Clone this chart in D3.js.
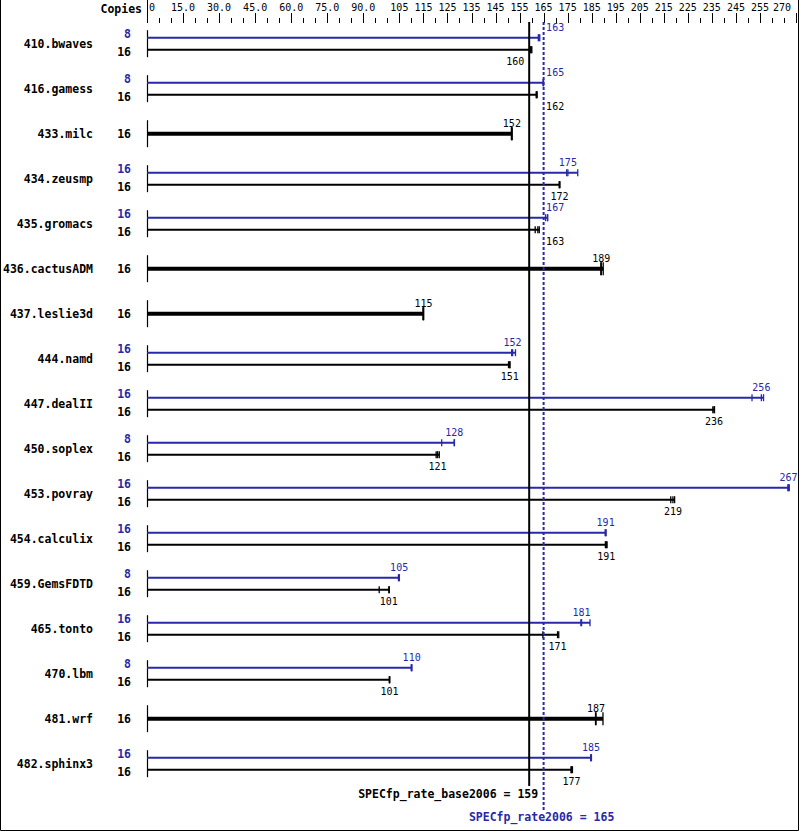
<!DOCTYPE html>
<html><head><meta charset="utf-8">
<script src="https://cdn.jsdelivr.net/npm/d3@7"></script>
<style>body{margin:0;background:#fff} svg{display:block}</style>
</head><body>
<script>
const benchmarks = ["410.bwaves","416.gamess","433.milc","434.zeusmp","435.gromacs","436.cactusADM","437.leslie3d","444.namd","447.dealII","450.soplex","453.povray","454.calculix","459.GemsFDTD","465.tonto","470.lbm","481.wrf","482.sphinx3"];
const peakCopies = [8,8,null,16,16,null,null,16,16,8,16,16,8,16,8,null,16];
const baseCopies = [16,16,16,16,16,16,16,16,16,16,16,16,16,16,16,16,16];
// individual run ratios (peak null = peak identical to base)
const peakRuns = [
  [162.8,163.1,163.4],[164.8,164.9,165.0],null,[174.6,175.1,179.2],[165.8,166.6,166.7],
  null,null,[151.7,152.1,153.3],[251.7,255.6,256.5],[122.6,127.8,127.9],
  [266.6,266.9,267.2],[190.6,190.8,191.0],[104.6,104.9,105.0],[180.5,180.8,184.3],
  [109.9,110.1,110.2],null,[184.6,184.7,184.9]
];
const baseRuns = [
  [159.6,159.8,160.1],[161.9,162.1,162.3],[151.6,151.8,151.9],[171.5,171.6,171.8],[161.5,162.6,163.2],
  [188.8,189.0,189.8],[114.8,115.0,115.1],[150.4,150.9,151.0],[235.4,235.9,236.1],[120.3,120.9,121.6],
  [217.9,218.8,219.5],[190.7,191.1,191.4],[96.6,100.6,100.8],[164.7,170.8,171.3],
  [100.8,100.9,101.0],[186.6,186.8,189.7],[176.4,176.6,177.0]
];
const tickLabelValues = [0,15,30,45,60,75,90,105,115,125,135,145,155,165,175,185,195,205,215,225,235,245,255,270];
const tickLabels = ["0","15.0","30.0","45.0","60.0","75.0","90.0","105","115","125","135","145","155","165","175","185","195","205","215","225","235","245","255","270"];
const baseScore = 159, peakScore = 165;
const baseTitle = "SPECfp_rate_base2006 = 159";
const peakTitle = "SPECfp_rate2006 = 165";

const W = 799, H = 831;
const BLUE = "#2828a8", MONO = "'DejaVu Sans Mono', 'Liberation Mono', monospace";
const svg = d3.select("body").append("svg").attr("width", W).attr("height", H);
const x = d3.scaleLinear().domain([0, 270]).range([147, 796]);
const y = d3.scaleLinear().domain([0, benchmarks.length - 1]).range([43.7, 763.7]);

// border
svg.append("path").attr("d", `M0.5,0V830.5H798.5V0`).attr("fill", "none").attr("stroke", "#000");

// top axis
svg.append("line").attr("x1", 147.5).attr("x2", 147.5).attr("y1", 0).attr("y2", 23).attr("stroke", "#000");
const ticks = d3.range(0, 271, 5);
svg.append("g").selectAll("line").data(ticks).join("line")
  .attr("x1", d => Math.round(x(d)) + 0.5).attr("x2", d => Math.round(x(d)) + 0.5)
  .attr("y1", d => tickLabelValues.includes(d) ? 13 : 18).attr("y2", 23)
  .attr("stroke", "#000");
svg.append("g").selectAll("text").data(tickLabelValues).join("text")
  .attr("x", (d, i) => d === 0 ? x(d) + 2 : (d === 270 ? 791 : x(d)))
  .attr("y", 11)
  .attr("text-anchor", d => d === 0 ? "start" : (d === 270 ? "end" : "middle"))
  .attr("font-family", MONO).attr("font-size", 10)
  .text((d, i) => tickLabels[i]);
svg.append("text").attr("x", 142).attr("y", 13).attr("text-anchor", "end")
  .attr("font-family", MONO).attr("font-size", 11.5).attr("font-weight", "bold").text("Copies");

const xb = x(baseScore), xp = x(peakScore);
const charW = 6.02;
function placeLabel(cx, txt) {
  const w = txt.length * charW;
  const lines = [xb, xp];
  const overlaps = c => lines.some(L => c - w / 2 < L + 1.5 && c + w / 2 > L - 1.5);
  const cands = [cx];
  lines.forEach(L => { cands.push(L - 1 - 4 - w / 2); cands.push(L + 1 + 1.5 + w / 2); });
  const ok = cands.filter(c => !overlaps(c));
  ok.sort((a, b) => Math.abs(a - cx) - Math.abs(b - cx));
  return ok[0];
}

const g = svg.append("g");
function drawBar(runs, yy, color, thick, labelAbove) {
  const mx = d3.max(runs), med = d3.median(runs);
  g.append("line").attr("x1", x(0)).attr("x2", x(mx)).attr("y1", yy).attr("y2", yy)
    .attr("stroke", color).attr("stroke-width", thick ? 4 : 2);
  const th = thick ? 6.5 : 3.5;
  g.append("g").selectAll("line").data(runs).join("line")
    .attr("x1", d => x(d)).attr("x2", d => x(d))
    .attr("y1", yy - th).attr("y2", yy + th)
    .attr("stroke", color).attr("stroke-width", 1.3);
  const txt = String(Math.round(med));
  g.append("text").attr("x", placeLabel(x(med), txt))
    .attr("y", labelAbove ? yy - (thick ? 7 : 6.5) : yy + 15)
    .attr("text-anchor", "middle").attr("font-family", MONO).attr("font-size", 10)
    .attr("fill", color).text(txt);
}

benchmarks.forEach((name, i) => {
  const cy = y(i);
  g.append("text").attr("x", 93).attr("y", cy + 4).attr("text-anchor", "end")
    .attr("font-family", MONO).attr("font-size", 11.5).attr("font-weight", "bold").text(name);
  g.append("line").attr("x1", 147.5).attr("x2", 147.5).attr("y1", cy - 13.5).attr("y2", cy + 13.5)
    .attr("stroke", "#000").attr("stroke-width", 1.2);
  if (peakRuns[i]) {
    g.append("text").attr("x", 131).attr("y", cy - 5.5).attr("text-anchor", "end")
      .attr("font-family", MONO).attr("font-size", 11.5).attr("font-weight", "bold").attr("fill", BLUE).text(peakCopies[i]);
    g.append("text").attr("x", 131).attr("y", cy + 12.5).attr("text-anchor", "end")
      .attr("font-family", MONO).attr("font-size", 11.5).attr("font-weight", "bold").text(baseCopies[i]);
    drawBar(peakRuns[i], cy - 6, BLUE, false, true);
    drawBar(baseRuns[i], cy + 6, "#000", false, false);
  } else {
    g.append("text").attr("x", 131).attr("y", cy + 4).attr("text-anchor", "end")
      .attr("font-family", MONO).attr("font-size", 11.5).attr("font-weight", "bold").text(baseCopies[i]);
    drawBar(baseRuns[i], cy, "#000", true, true);
  }
});

// reference lines
svg.append("line").attr("x1", xb).attr("x2", xb).attr("y1", 22).attr("y2", 786)
  .attr("stroke", "#000").attr("stroke-width", 2);
svg.append("line").attr("x1", xp).attr("x2", xp).attr("y1", 22).attr("y2", 810)
  .attr("stroke", BLUE).attr("stroke-width", 2).attr("stroke-dasharray", "3,2");
svg.append("text").attr("x", xb + 9).attr("y", 798).attr("text-anchor", "end")
  .attr("font-family", MONO).attr("font-size", 11.5).attr("font-weight", "bold").text(baseTitle);
svg.append("text").attr("x", xp - 2).attr("y", 821).attr("text-anchor", "middle")
  .attr("font-family", MONO).attr("font-size", 11.5).attr("font-weight", "bold").attr("fill", BLUE).text(peakTitle);
</script>
</body></html>
